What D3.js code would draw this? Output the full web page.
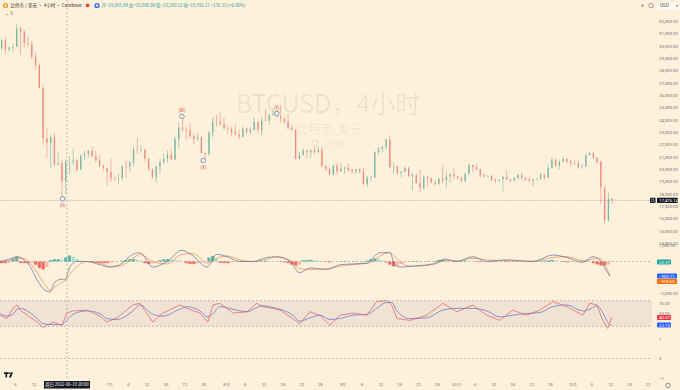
<!DOCTYPE html>
<html>
<head>
<meta charset="utf-8">
<script src="https://cdnjs.cloudflare.com/ajax/libs/d3/7.8.5/d3.min.js"></script>
<style>
  body { margin: 0; background: #fdf1dc; }
  svg { display: block; font-family: "Noto Sans CJK SC", "Noto Sans", sans-serif; }
</style>
</head>
<body>
<div id="chart"></div>
<script>
// ---- data (one candle per day) ----
var startDay = "2022-06-01";
var firstOpen = 31790;
var closes = [
  29800,30460,29700,29860,29900,31370,31130,30200,30110,29090,
  28420,26580,22490,22140,22580,20380,20470,19000,20560,20570,
  20720,19970,21100,21230,21500,21030,20730,20280,20100,19790,
  19300,19250,19300,20230,20190,20550,21630,21590,21590,20860,
  19970,19330,20210,20570,20830,21190,20780,22430,23390,23230,
  23160,22680,22450,22580,21310,21250,22950,23840,23800,23640,
  23300,
  23270,22990,22820,22620,23310,22960,23170,23810,23160,23950,
  23940,24400,24440,24300,24100,23850,23340,23200,20830,21150,
  21520,21400,21530,21370,21570,20260,20040,19550,20280,19800,
  20050,
  20130,19950,19830,20000,19790,18790,19290,19320,21360,21650,
  21830,22400,20170,20230,19700,19800,20110,19420,19540,18880,
  18480,19400,19290,18920,18800,19220,19080,19410,19590,19420,
  19310,19050,19630,20340,20160,19960,19530,19420,19450,19130,
  19060,19160,19380,19180,19070,19270,19550,19330,19130,19050,
  19170,19210,19570,19330,20090,20770,20290,20600,20810,20630,
  20490,
  20480,20160,20210,21150,21300,20900,20590,18540,15880,17590,
  17475.14
];
var highs = [
  31960,30650,30680,29950,30150,31750,31550,31320,30700,30350,
  29450,28550,26900,23300,22750,22950,21350,20750,20800,21000,
  21700,20850,21200,21500,21550,21850,21500,21150,20350,20150,
  20850,19400,19650,20300,20700,20650,21800,22500,21950,21600,
  20900,20050,20300,20850,21200,21550,21650,22700,23750,24280,
  23400,23750,22900,22950,22650,21350,23100,24200,24400,24650,
  24150,
  23500,23450,23650,23200,23450,23350,23400,24200,23900,24200,
  24900,24450,24900,25050,25200,24250,24450,23600,23200,21400,
  21700,21550,21650,21800,21800,21850,20350,20150,20400,20550,
  20500,
  20200,20450,20050,20000,20050,20150,19450,19450,21450,21800,
  21850,22450,22750,20550,20300,19900,20200,20200,19700,19600,
  19950,19500,19500,19300,19150,19300,20350,19750,19650,20150,
  19480,19400,19700,20450,20350,20450,20050,19600,19550,19550,
  19250,19200,19500,19950,19220,19400,19650,19700,19350,19350,
  19250,19250,19700,19600,20400,21000,20850,20750,21050,20900,
  20800,
  20700,20800,20400,21300,21450,21350,21000,20700,18600,18150,
  17650
];
var lows = [
  29300,29600,29350,29500,29500,29880,29250,29850,29950,28900,
  28100,26550,21950,20900,20100,20250,20300,17600,17950,19650,
  20350,19800,19900,20750,20900,20950,20500,20200,19850,18650,
  19000,19050,18800,19050,19300,19800,20250,21200,21350,20650,
  19900,19250,18900,19650,20400,20500,20750,20750,21650,23000,
  22350,22500,22000,22300,21300,20700,21050,22600,23450,23550,
  23250,
  22850,22650,22700,22450,22600,22900,22850,23150,22900,22700,
  23900,23600,24300,24150,23800,23700,23200,23150,20800,20800,
  21100,20900,20900,21200,21350,20150,19850,19550,19550,19550,
  19800,
  19650,19800,19650,19600,19650,18700,18550,19000,19300,21150,
  21350,21600,20100,19650,19550,19350,19750,19350,18250,18800,
  18150,18350,18600,18850,18650,18700,18850,18500,18900,19200,
  19150,18950,18950,19500,19750,19900,19330,19350,19350,19050,
  18900,18950,18190,19100,18980,19050,19150,19100,19050,18900,
  18650,19100,19100,19150,19250,20050,20200,20000,20550,20500,
  20250,
  20350,20050,20050,20180,21100,20900,20400,17160,15590,15750,
  17200
];

// wave labels
var waveTimes  = ["2022-06-18T16:00Z", "2022-07-20T08:00Z", "2022-07-26T00:00Z", "2022-08-14T12:00Z"];
var wavePrices = [17600, 24280, 20700, 24500];
var waveLabels = ["(0)", "(W)", "(X)", "(Y)"];
var waveAbove  = [false, true, false, true];

// MACD (days after startDay)
var macdDays = [0,1.1,3.5,5.6,7.5,9.0,10.9,12.5,13.5,14.3,15.6,17.5,18.3,19.6,21.5,24.1,27.6,30.2,32.9,36.3,
  38.2,41.6,45.4,49.3,52.3,56,58.6,61.3,64.7,68.2,71.9,74.5,78,80.6,83.3,87.8,91.2,95,98.4,101,
  101.9,104.5,105.8,107.2,109.8,115.9,119.1,122.3,126.5,130.2,135.5,142.4,147.7,151.5,155.7,158.4,160.2,161.5,162.9];
var macdLine = [50,0,150,300,100,-300,-1150,-1700,-1850,-1900,-1300,-1100,-1150,-350,0,0,-200,-350,-200,450,
  550,-350,0,700,350,-350,450,300,0,0,250,300,0,-700,-400,-500,-200,-150,-100,450,
  550,550,-200,-350,-300,-150,150,0,300,0,100,0,400,250,-50,300,100,-400,-905.71];
var signalLine = [80,30,60,200,180,-100,-700,-1300,-1600,-1800,-1600,-1300,-1200,-800,-300,0,-100,-300,-280,200,
  450,0,-150,450,500,-100,200,350,100,0,150,280,100,-450,-500,-450,-300,-180,-120,200,
  350,550,300,0,-300,-200,50,50,200,100,50,20,250,300,50,150,200,-150,-918.68];
var histDaily = [
  -50,-100,-100,-80,200,300,-100,-100,-100,-80,
  -200,-400,-500,-350,100,150,150,100,250,380,
  300,150,50,0,-30,-50,-80,-100,-100,-100,
  -60,-30,0,50,100,150,150,120,60,-100,
  -150,-120,-50,80,150,150,120,100,60,0,
  -100,-150,-150,-120,-60,0,250,350,200,-80,
  -100,-100,-60,-20,0,20,30,20,0,-20,
  30,60,40,20,0,-20,-50,-100,-200,-250,
  -200,80,100,100,80,50,0,-30,-50,-30,
  0,30,40,20,0,-20,0,20,60,150,
  200,180,60,-50,-200,-300,-280,-150,-50,0,
  30,40,20,0,-20,0,40,100,100,60,
  0,-30,0,40,60,40,0,-30,-40,-20,
  0,20,30,10,-10,-20,0,10,20,0,
  -10,-20,0,20,40,60,80,100,60,0,
  -30,-50,-40,-20,0,20,40,20,-100,-180,
  -250,-250,-200,12.97
];

// stochastic
var stochDays = [1.1,2.9,4.5,5.6,6.4,9.0,10.9,12.5,15.1,17.5,18.8,20.4,24.1,27.6,29.4,32.1,36.3,38.2,41.6,44.3,
  48.8,50.7,54.1,56.2,57.6,59.4,62.9,66.6,69.2,70.8,73.5,75.3,78.8,80.6,83.3,85.9,88.6,91.2,94.7,98.4,
  101,103.7,105,106.4,109.8,114.3,118.6,122.3,126.5,130.2,133.7,137.1,140.8,144.3,147.7,151.5,155.7,157.6,159.4,161,162.3,163.4];
var stochK = [46,38,62,70,58,42,30,17,30,22,51,56,58,44,30,40,70,74,30,51,
  70,62,51,30,70,74,51,54,74,66,62,58,38,26,54,46,22,46,51,46,
  78,80,70,38,34,46,74,54,70,46,34,58,46,58,78,66,46,74,70,34,15,40.57];
var stochD = [50,44,48,60,62,52,38,26,24,24,34,48,56,50,38,36,56,70,48,44,
  60,66,56,42,50,66,60,54,64,68,64,60,46,32,40,46,36,38,46,48,
  62,76,76,56,38,40,58,62,62,56,42,46,50,52,66,70,56,60,68,52,30,22.13];

// axes
var priceTicks = [14000,15000,16000,17000,18000,19000,20000,21000,22000,23000,24000,25000,26000,27000,28000,29000,30000,31000,32000];
var timeTicks  = ["2022-06-06","2022-06-11","2022-07-01","2022-07-06","2022-07-11","2022-07-16","2022-07-21","2022-07-26",
  "2022-08-01","2022-08-06","2022-08-11","2022-08-16","2022-08-21","2022-08-26",
  "2022-09-01","2022-09-06","2022-09-11","2022-09-16","2022-09-21","2022-09-26",
  "2022-10-01","2022-10-06","2022-10-11","2022-10-16","2022-10-21","2022-10-26",
  "2022-11-01","2022-11-06","2022-11-11","2022-11-16","2022-11-21"];
var timeLabels = ["6","11","7月","6","11","16","21","26","8月","6","11","16","21","26",
  "9月","6","11","16","21","26","10月","6","11","16","21","26","11月","6","11","16","21"];

var titleText = "比特币 / 美元 · 4小时 · Coinbase";
var ohlcText = "开=19,665.84 高=19,900.00 低=19,109.52 收=19,796.17 +130.33 (+0.66%)";
var crossText = "周日 2022-06-19 20:00";
var crossTime = "2022-06-19T20:00Z";

// ---- chart ----
var width = 680, height = 390, plotRight = 652;
var svg = d3.select("#chart").append("svg")
    .attr("width", width).attr("height", height);

svg.append("rect").attr("width", width).attr("height", height).attr("fill", "#fdf1dc");
svg.append("clipPath").attr("id", "plot").append("rect")
    .attr("x", 0).attr("y", 0).attr("width", plotRight).attr("height", 380);

var start = new Date(startDay + "T00:00Z");
var dayTime = function(d) { return new Date(start.getTime() + d * 864e5); };

var x = d3.scaleUtc()
    .domain([start, new Date("2022-11-21T00:00Z")])
    .range([-4, 648]);
var yPrice = d3.scaleLinear().domain([14000, 32000]).range([243.3, 21]);
var yMacd  = d3.scaleLinear().domain([-2000, 1000]).range([293.5, 245.5]);
var yStoch = d3.scaleLinear().domain([20, 80]).range([326.3, 300.7]);
var yThird = d3.scaleLinear().domain([-1, 1]).range([378, 339]);

var plot = svg.append("g").attr("clip-path", "url(#plot)");

// watermark
var wm = plot.append("g").attr("fill", "#000").attr("fill-opacity", 0.07).attr("text-anchor", "middle");
wm.append("text").attr("x", 328).attr("y", 113).attr("font-size", 25).text("BTCUSD，4小时");
wm.append("text").attr("x", 329).attr("y", 134).attr("font-size", 12).text("比特币/美元");
wm.append("text").attr("x", 334).attr("y", 147.5).attr("font-size", 10.5).text("回放");
wm.append("circle").attr("cx", 315).attr("cy", 143.5).attr("r", 3.2).attr("fill", "none")
    .attr("stroke", "#000").attr("stroke-opacity", 0.07).attr("stroke-width", 1.2);

// dashed reference lines
var dash = function(y1) {
  plot.append("line").attr("x1", 0).attr("x2", plotRight).attr("y1", y1).attr("y2", y1)
      .attr("stroke", "#9a9a9a").attr("stroke-width", 0.6).attr("stroke-dasharray", "2,2");
};
plot.append("rect").attr("x", 0).attr("width", plotRight)
    .attr("y", yStoch(80)).attr("height", yStoch(20) - yStoch(80))
    .attr("fill", "#7e6a8c").attr("fill-opacity", 0.1);
dash(yMacd(0)); dash(yStoch(80)); dash(yStoch(20)); dash(yThird(0));

// candles
var candles = closes.map(function(c, i) {
  return { t: d3.utcHour.offset(d3.utcDay.offset(start, i), 12),
           o: i === 0 ? firstOpen : closes[i - 1], h: highs[i], l: lows[i], c: c };
});
var cg = plot.append("g").selectAll("g").data(candles).enter().append("g")
    .attr("fill", function(d) { return d.c >= d.o ? "#4ea58b" : "#e8675f"; })
    .attr("stroke", function(d) { return d.c >= d.o ? "#4ea58b" : "#e8675f"; })
    .attr("opacity", 0.75);
cg.append("line")
    .attr("x1", function(d) { return x(d.t); }).attr("x2", function(d) { return x(d.t); })
    .attr("y1", function(d) { return yPrice(d.h); }).attr("y2", function(d) { return yPrice(d.l); })
    .attr("stroke-width", 0.6);
cg.append("rect")
    .attr("x", function(d) { return x(d.t) - 0.65; }).attr("width", 1.3)
    .attr("y", function(d) { return yPrice(Math.max(d.o, d.c)); })
    .attr("height", function(d) { return Math.max(0.6, Math.abs(yPrice(d.o) - yPrice(d.c))); })
    .attr("stroke", "none");

// last price line
var last = closes[closes.length - 1];
plot.append("line").attr("x1", 0).attr("x2", plotRight).attr("y1", yPrice(last)).attr("y2", yPrice(last))
    .attr("stroke", "#8f8f8f").attr("stroke-width", 0.6).attr("stroke-dasharray", "1.5,1.5");

// wave markers
waveTimes.forEach(function(t, i) {
  var cx = x(new Date(t)), cy = yPrice(wavePrices[i]);
  plot.append("circle").attr("cx", cx).attr("cy", cy).attr("r", 2.3)
      .attr("fill", "#f4f4f4").attr("stroke", "#6c7fb3").attr("stroke-width", 0.8);
  plot.append("text").attr("x", cx).attr("y", waveAbove[i] ? cy - 4.5 : cy + 8.5)
      .attr("text-anchor", "middle").attr("font-size", 4.8).attr("fill", "#e0483e")
      .text(waveLabels[i]);
});

// MACD pane
var hg = plot.append("g");
hg.selectAll("rect").data(histDaily).enter().append("rect")
    .attr("x", function(d, i) { return x(d3.utcHour.offset(d3.utcDay.offset(start, i), 12)) - 1.6; })
    .attr("width", 3.2)
    .attr("y", function(d) { return Math.min(yMacd(d), yMacd(0)); })
    .attr("height", function(d) { return Math.abs(yMacd(d) - yMacd(0)); })
    .attr("fill", function(d, i) {
      var prev = i === 0 ? 0 : histDaily[i - 1];
      if (d >= 0) return d >= prev ? "#5fb9a6" : "#a9dcd2";
      return d <= prev ? "#f06a62" : "#f7b8b4";
    });
var macdPath = d3.line()
    .x(function(d) { return x(dayTime(d[0])); }).y(function(d) { return yMacd(d[1]); })
    .curve(d3.curveMonotoneX);
plot.append("path").datum(d3.zip(macdDays, signalLine)).attr("d", macdPath)
    .attr("fill", "none").attr("stroke", "#f08a4b").attr("stroke-width", 0.7);
plot.append("path").datum(d3.zip(macdDays, macdLine)).attr("d", macdPath)
    .attr("fill", "none").attr("stroke", "#5d6f9c").attr("stroke-width", 0.7);

// stochastic pane
var stochLine = function(curve) {
  return d3.line().x(function(d) { return x(dayTime(d[0])); })
      .y(function(d) { return yStoch(d[1]); }).curve(curve);
};
plot.append("path").datum(d3.zip(stochDays, stochD)).attr("d", stochLine(d3.curveMonotoneX))
    .attr("fill", "none").attr("stroke", "#5b6bd6").attr("stroke-width", 0.7);
plot.append("path").datum(d3.zip(stochDays, stochK)).attr("d", stochLine(d3.curveLinear))
    .attr("fill", "none").attr("stroke", "#ea5a57").attr("stroke-width", 0.7);

// crosshair vertical
var cx0 = x(new Date(crossTime));
svg.append("line").attr("x1", cx0).attr("x2", cx0).attr("y1", 0).attr("y2", 380)
    .attr("stroke", "#9a9a9a").attr("stroke-width", 0.6).attr("stroke-dasharray", "2,2");

// price axis
var axisG = svg.append("g").attr("transform", "translate(655,0)")
    .call(d3.axisRight(yPrice).tickValues(priceTicks).tickFormat(d3.format(",.2f")).tickSize(0).tickPadding(4));
axisG.select(".domain").remove();
axisG.selectAll("text").attr("font-size", 4.3).attr("fill", "#6f6f6f").attr("font-family", "Roboto, sans-serif");

var paneAxis = function(scale, vals, fmt) {
  var g = svg.append("g").attr("transform", "translate(655,0)")
      .call(d3.axisRight(scale).tickValues(vals).tickFormat(fmt).tickSize(0).tickPadding(4));
  g.select(".domain").remove();
  g.selectAll("text").attr("font-size", 4.3).attr("fill", "#6f6f6f").attr("font-family", "Roboto, sans-serif");
};
paneAxis(yMacd, [1000, -2000], d3.format(",.2f"));
paneAxis(yStoch, [75, 50], d3.format(".2f"));
paneAxis(yThird, [1, 0, -1], d3.format("d"));

// value labels on the right
var tag = function(y, text, bg, w) {
  svg.append("rect").attr("x", 657).attr("y", y - 2.6).attr("width", w).attr("height", 5.2)
      .attr("rx", 0.8).attr("fill", bg);
  svg.append("text").attr("x", 659).attr("y", y + 1.5).attr("font-size", 4.3).attr("fill", "#fff")
      .attr("font-family", "Roboto, sans-serif").text(text);
};
tag(yPrice(last), d3.format(",.2f")(last), "#131722", 21);
svg.append("rect").attr("x", 650).attr("y", yPrice(last) - 2.6).attr("width", 5.5).attr("height", 5.2)
    .attr("rx", 0.8).attr("fill", "#131722");
svg.append("circle").attr("cx", 652.75).attr("cy", yPrice(last)).attr("r", 1.4)
    .attr("fill", "none").attr("stroke", "#fff").attr("stroke-width", 0.5);
tag(262, "22.97", "#26a69a", 14);
tag(276, d3.format(".2f")(macdLine[macdLine.length - 1]), "#2962ff", 20);
tag(281.5, d3.format(".2f")(signalLine[signalLine.length - 1]), "#ff6d00", 20);
tag(317.5, d3.format(".2f")(stochK[stochK.length - 1]), "#f23645", 14);
tag(325, d3.format(".2f")(stochD[stochD.length - 1]), "#2962ff", 14);

// time axis
var tAxis = svg.append("g").attr("transform", "translate(0,381)")
    .call(d3.axisBottom(x).tickValues(timeTicks.map(function(d) { return new Date(d + "T00:00Z"); }))
      .tickFormat(function(d, i) { return timeLabels[i]; }).tickSize(0).tickPadding(2));
tAxis.select(".domain").remove();
tAxis.selectAll("text").attr("font-size", 4.3).attr("fill", "#6f6f6f");

// crosshair time tag
svg.append("rect").attr("x", cx0 - 23).attr("y", 381).attr("width", 46).attr("height", 7.5)
    .attr("fill", "#131722");
svg.append("text").attr("x", cx0).attr("y", 386.3).attr("text-anchor", "middle")
    .attr("font-size", 4.3).attr("fill", "#fff").text(crossText);

// gear icon
svg.append("circle").attr("cx", 668).attr("cy", 385.5).attr("r", 2.2).attr("fill", "none")
    .attr("stroke", "#777").attr("stroke-width", 0.8);

// TradingView logo
var logo = svg.append("g").attr("fill", "#131722");
logo.append("path").attr("d", "M4,372.3h4.6v1.6h-1.5v3.6h-1.6v-3.6h-1.5z");
logo.append("circle").attr("cx", 9.6).attr("cy", 373.1).attr("r", 0.8);
logo.append("path").attr("d", "M11,372.3h2l-2,5.2h-2z");

// header
svg.append("circle").attr("cx", 5.5).attr("cy", 5.5).attr("r", 2.6).attr("fill", "#f7931a");
svg.append("text").attr("x", 5.5).attr("y", 7).attr("text-anchor", "middle").attr("font-size", 3.6)
    .attr("fill", "#fff").attr("font-weight", "bold").text("₿");
svg.append("text").attr("x", 10.5).attr("y", 7.3).attr("font-size", 5).attr("fill", "#333")
    .attr("textLength", 71).attr("lengthAdjust", "spacingAndGlyphs").text(titleText);
svg.append("rect").attr("x", 86).attr("y", 3.8).attr("width", 3.2).attr("height", 3.2).attr("fill", "#f23645");
svg.append("circle").attr("cx", 97).attr("cy", 5.5).attr("r", 2.6).attr("fill", "#2962ff");
svg.append("circle").attr("cx", 97).attr("cy", 5.5).attr("r", 1.2).attr("fill", "#fff");
svg.append("text").attr("x", 101.5).attr("y", 7.2).attr("font-size", 4.4).attr("fill", "#26a69a").text(ohlcText);
svg.append("text").attr("x", 5).attr("y", 15).attr("font-size", 4.5).attr("fill", "#444").text("⌄ 3");

// top right buttons
svg.append("text").attr("x", 641).attr("y", 7.3).attr("font-size", 4.5).attr("fill", "#666").text("a");
svg.append("circle").attr("cx", 651).attr("cy", 5.6).attr("r", 2.2).attr("fill", "none")
    .attr("stroke", "#666").attr("stroke-width", 0.6);
svg.append("rect").attr("x", 657).attr("y", 2.2).attr("width", 22).attr("height", 7).attr("rx", 1)
    .attr("fill", "#fff").attr("fill-opacity", 0.6);
svg.append("text").attr("x", 660).attr("y", 7.3).attr("font-size", 4.4).attr("fill", "#333").text("USD");
svg.append("text").attr("x", 675.5).attr("y", 7.3).attr("font-size", 4).attr("fill", "#666").text("▾");
</script>
</body>
</html>
